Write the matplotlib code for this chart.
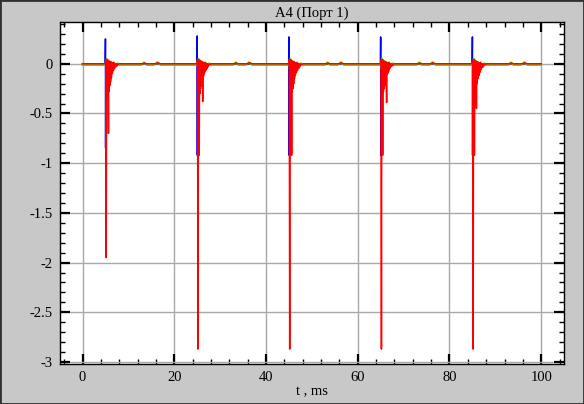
import matplotlib
matplotlib.use("Agg")
import matplotlib.pyplot as plt
from matplotlib.ticker import MultipleLocator, FuncFormatter
from matplotlib.patches import Rectangle

# ---------------- data ----------------
pulse_t0 = [5.0, 25.0, 45.0, 65.0, 85.0]

# blue trace: sharp up/down spike at each pulse
blue_dt = [-0.05, 0.0, 0.04, 0.08, 0.14]
blue_peak = [0.25, 0.28, 0.27, 0.27, 0.27]
blue_dip = [-0.85, -0.92, -0.92, -0.92, -0.92]

# red trace: ringing after each pulse (common time offsets, per-pulse values)
red_dt = [0.00, 0.08, 0.17, 0.24, 0.30, 0.36, 0.44, 0.52, 0.60, 0.66,
          0.72, 0.80, 0.88, 0.96, 1.04, 1.12, 1.20, 1.30, 1.40, 1.50,
          1.60, 1.72, 1.84, 1.96, 2.10, 2.25, 2.40, 2.60, 2.80, 3.00]
red_p1 = [0.0, 0.04, -1.95, 0.03, -0.30, 0.04, -0.33, 0.03, -0.25, -0.70,
          0.03, -0.28, 0.02, -0.22, 0.02, -0.18, 0.02, -0.14, 0.01, -0.10,
          0.01, -0.07, 0.01, -0.05, 0.00, -0.03, 0.00, -0.02, 0.0, 0.0]
red_p2 = [0.0, 0.04, -2.87, 0.03, -0.35, 0.04, -0.92, 0.03, -0.30, 0.03,
          -0.25, 0.02, -0.22, 0.02, -0.18, 0.02, -0.38, 0.01, -0.12, 0.01,
          -0.09, 0.01, -0.07, 0.0, -0.05, 0.0, -0.03, 0.0, -0.01, 0.0]
red_p3 = [0.0, 0.04, -2.87, 0.03, -0.32, 0.04, -0.30, 0.03, -0.92, 0.03,
          -0.28, 0.02, -0.25, 0.02, -0.20, 0.02, -0.15, 0.01, -0.12, 0.01,
          -0.09, 0.01, -0.07, 0.0, -0.05, 0.0, -0.03, 0.0, -0.01, 0.0]
red_p4 = [0.0, 0.04, -2.87, 0.03, -0.30, 0.04, -0.92, 0.03, -0.28, 0.03,
          -0.25, 0.02, -0.22, 0.02, -0.18, 0.02, -0.15, -0.39, 0.01, -0.10,
          0.01, -0.08, 0.01, -0.05, 0.0, -0.03, 0.0, -0.02, 0.0, 0.0]
red_p5 = [0.0, 0.04, -2.87, 0.03, -0.35, 0.04, -0.92, 0.03, -0.30, 0.03,
          -0.28, 0.02, -0.45, 0.02, -0.20, 0.02, -0.15, 0.01, -0.12, 0.01,
          -0.09, 0.01, -0.06, 0.0, -0.04, 0.0, -0.03, 0.0, -0.01, 0.0]
red_pulses = [red_p1, red_p2, red_p3, red_p4, red_p5]
red_base_dt = [3.3, 8.2, 8.5, 8.9, 11.0, 11.4, 11.9, 19.95]
red_base_v = [0.0, 0.0, 0.008, 0.0, 0.0, 0.010, 0.0, 0.0]

# green trace: small ringing after pulses, small bumps on the baseline
green_ring_dt = [0.0, 0.1, 0.2, 0.3, 0.4, 0.5, 0.6, 0.8, 1.0, 1.2, 1.5,
                 1.8, 2.2, 2.6, 3.0]
green_ring_v = [-0.012, 0.03, -0.05, 0.05, -0.04, 0.04, -0.03, 0.03, -0.03,
                0.02, -0.02, 0.015, -0.01, 0.005, -0.012]
green_base_dt = [3.3, 7.8, 8.4, 9.0, 10.6, 11.3, 12.0, 19.95]
green_base_v = [-0.012, -0.012, 0.014, -0.012, -0.012, 0.016, -0.012, -0.012]

t_start, t_end = 0.0, 100.0

# ---------------- assemble traces ----------------
bt, bv = [t_start], [0.0]
rt, rv = [t_start], [0.0]
gt, gv = [t_start], [-0.012]
for i, t0 in enumerate(pulse_t0):
    bvals = [0.0, blue_peak[i], blue_dip[i], 0.02, 0.0]
    bt += [t0 + d for d in blue_dt]
    bv += bvals
    rt += [t0 + d for d in red_dt] + [t0 + d for d in red_base_dt]
    rv += red_pulses[i] + red_base_v
    gt += [t0 + d for d in green_ring_dt] + [t0 + d for d in green_base_dt]
    gv += green_ring_v + green_base_v
bt.append(t_end); bv.append(0.0)
rt = [t for t in rt if t <= t_end] + [t_end]
rv = rv[:len(rt) - 1] + [0.0]
gt = [t for t in gt if t <= t_end] + [t_end]
gv = gv[:len(gt) - 1] + [-0.012]

# ---------------- plotting ----------------
plt.rcParams['font.family'] = ['Liberation Serif', 'DejaVu Serif']
plt.rcParams['axes.unicode_minus'] = False

fig = plt.figure(figsize=(5.84, 4.04), dpi=100, facecolor='#c8c8c8')
ax = fig.add_axes([0.102, 0.099, 0.864, 0.8465])
ax.set_facecolor('white')

ax.plot(bt, bv, color='#0000ff', lw=1.1, zorder=3)
ax.plot(gt, gv, color='#66cc00', lw=1.4, zorder=4)
ax.plot(rt, rv, color='#ff0000', lw=1.1, zorder=5)

ax.set_xlim(-5, 105)
ax.set_ylim(-3.02, 0.42)
ax.xaxis.set_major_locator(MultipleLocator(20))
ax.xaxis.set_minor_locator(MultipleLocator(4))
ax.yaxis.set_major_locator(MultipleLocator(0.5))
ax.yaxis.set_minor_locator(MultipleLocator(0.1))
fmt = FuncFormatter(lambda v, p: '%g' % round(v, 3))
ax.xaxis.set_major_formatter(fmt)
ax.yaxis.set_major_formatter(fmt)

ax.tick_params(which='both', direction='in', top=True, right=True,
               labelsize=10.5, colors='black')
ax.tick_params(which='major', length=7, width=1.6, pad=5)
ax.tick_params(which='minor', length=3.5, width=1.0)
ax.grid(True, which='major', color='#a8a8a8', lw=1.0, zorder=0)
for s in ax.spines.values():
    s.set_linewidth(1.0)
    s.set_color('black')

ax.set_title('A4 (Порт 1)', fontsize=10.5, pad=4)
ax.set_xlabel('t , ms', fontsize=10.5, labelpad=1)

fig.patches.append(Rectangle((0, 0), 1, 1, transform=fig.transFigure,
                             fill=False, edgecolor='#303030', lw=2.0))

fig.savefig('out.png', dpi=100, facecolor=fig.get_facecolor())
